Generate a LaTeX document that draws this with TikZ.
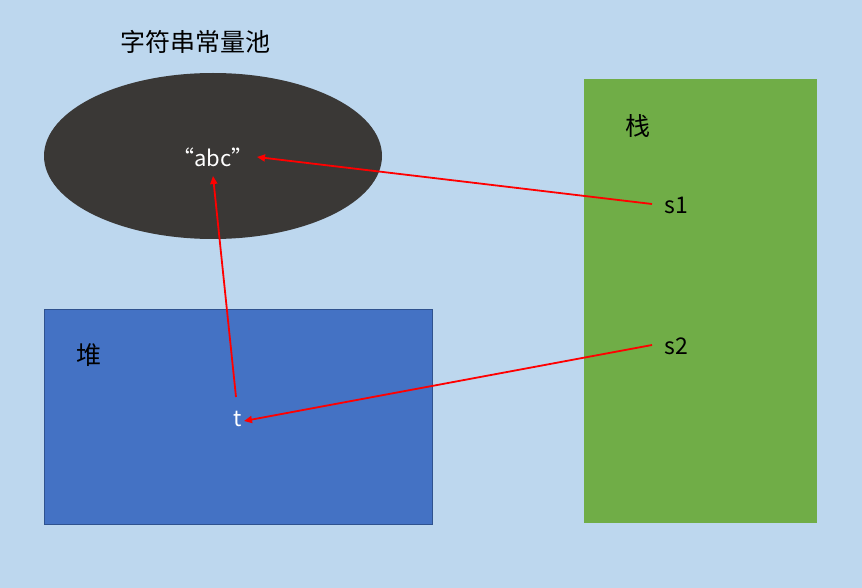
\documentclass[tikz,border=0pt]{standalone}
\usepackage{fontspec}
\setmainfont{Noto Sans CJK SC}
\usetikzlibrary{arrows.meta}
\definecolor{bg}{HTML}{BDD7EE}
\definecolor{pool}{HTML}{3A3836}
\definecolor{heap}{HTML}{4472C4}
\definecolor{heapb}{HTML}{2F528F}
\definecolor{stack}{HTML}{70AD47}
\definecolor{arr}{HTML}{FF0000}
\tikzset{
  lbl/.style={font=\fontsize{25}{28}\selectfont, text=black, inner sep=0pt},
  slbl/.style={font=\fontsize{23}{26}\selectfont, text=black, inner sep=0pt},
  wlbl/.style={font=\fontsize{22}{26}\selectfont, text=white, inner sep=0pt},
  ref/.style={draw=arr, line width=1.8pt, -{Triangle[length=8pt,width=7pt]}}
}
\begin{document}
\begin{tikzpicture}[x=1pt,y=-1pt]
\path[fill=bg] (0,0) rectangle (862,588);
\useasboundingbox (0,0) rectangle (862,588);
\fill[pool] (213,156) ellipse [x radius=169, y radius=83];
\filldraw[fill=heap, draw=heapb, line width=0.8pt] (44,309) rectangle (432,524);
\fill[stack] (584,79) rectangle (817,523);
\node[lbl] (title) at (195,42) {字符串常量池};
\node[lbl] (zhan) at (638,126) {栈};
\node[lbl] (dui) at (89,355) {堆};
\node[wlbl] (abc) at (213,157) {“abc”};
\node[slbl] (s1) at (676,205) {s1};
\node[slbl] (s2) at (676,346) {s2};
\node[wlbl] (t) at (238,419) {t};
\coordinate (s1e) at (652,204);
\coordinate (s2e) at (652,345);
\coordinate (abcr) at (257,157);
\coordinate (abcb) at (213,176);
\coordinate (tt) at (236,397);
\coordinate (tr) at (244,421);
\draw[ref] (s1e) -- (abcr);
\draw[ref] (tt) -- (abcb);
\draw[ref] (s2e) -- (tr);
\end{tikzpicture}
\end{document}
